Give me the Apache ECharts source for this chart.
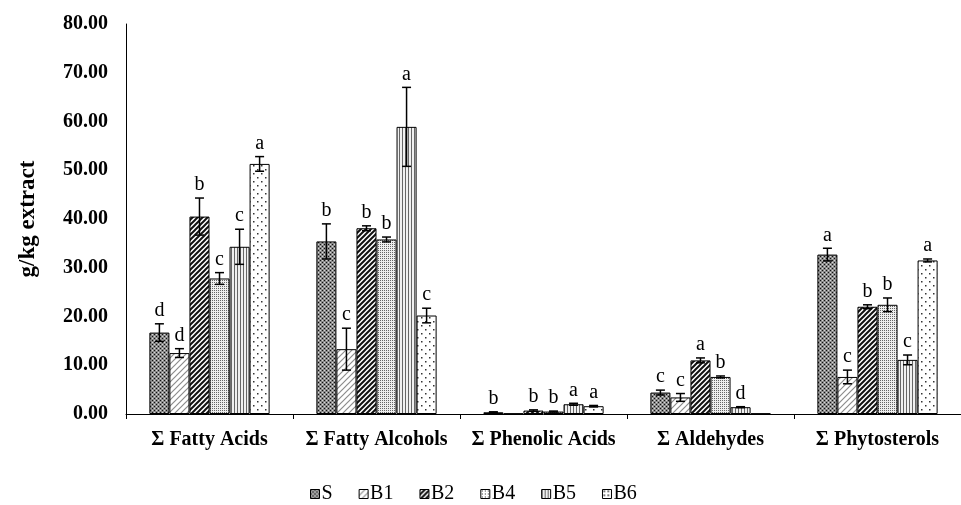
<!DOCTYPE html>
<html><head><meta charset="utf-8">
<script src="https://cdn.jsdelivr.net/npm/echarts@6/dist/echarts.min.js"></script>
<style>html,body{margin:0;padding:0;background:#fff}#c{width:961px;height:505px}</style>
</head><body><div id="c"></div>
<script>
var categories = ['Σ Fatty Acids','Σ Fatty Alcohols','Σ Phenolic Acids','Σ Aldehydes','Σ Phytosterols'];
var seriesNames = ['S','B1','B2','B4','B5','B6'];
var valS  = [16.7, 35.4, 0.35, 4.4, 32.7];
var valB1 = [12.5, 13.3, 0.1, 3.4, 7.6];
var valB2 = [40.5, 38.1, 0.7, 11.0, 22.0];
var valB4 = [27.8, 35.8, 0.5, 7.6, 22.4];
var valB5 = [34.3, 58.9, 2.0, 1.4, 11.1];
var valB6 = [51.3, 20.2, 1.6, 0.1, 31.5];
var errS  = [1.8, 3.6, 0.1, 0.5, 1.3];
var errB1 = [0.9, 4.3, 0, 0.8, 1.4];
var errB2 = [3.8, 0.5, 0.15, 0.5, 0.4];
var errB4 = [1.2, 0.5, 0.1, 0.2, 1.4];
var errB5 = [3.6, 8.1, 0.2, 0.1, 1.0];
var errB6 = [1.5, 1.5, 0.15, 0, 0.3];
var letS  = ['d','b','b','c','a'];
var letB1 = ['d','c','','c','c'];
var letB2 = ['b','b','b','a','b'];
var letB4 = ['c','b','b','b','b'];
var letB5 = ['c','a','a','d','c'];
var letB6 = ['a','c','a','','a'];
var yTicks = [0,10,20,30,40,50,60,70,80];

var values = [valS,valB1,valB2,valB4,valB5,valB6];
var errs = [errS,errB1,errB2,errB4,errB5,errB6];
var lets = [letS,letB1,letB2,letB4,letB5,letB6];

function mk(w,h,fn){var c=document.createElement('canvas');c.width=w;c.height=h;var x=c.getContext('2d');fn(x,w,h);return c;}
function px(x,c,a,b,s){x.fillStyle=c;x.fillRect(a,b,s||1,s||1);}
var patterns = [
  mk(4,4,function(x){x.fillStyle='#8a8a8a';x.fillRect(0,0,4,4);px(x,'#111',0,0);px(x,'#111',2,2);px(x,'#d8d8d8',2,0);px(x,'#d8d8d8',0,2);}),
  mk(6,6,function(x){x.fillStyle='#fff';x.fillRect(0,0,6,6);x.strokeStyle='#8c8c8c';x.lineWidth=1.2;x.beginPath();x.moveTo(0,6);x.lineTo(6,0);x.moveTo(-3,3);x.lineTo(3,-3);x.moveTo(3,9);x.lineTo(9,3);x.stroke();}),
  mk(5,5,function(x){x.fillStyle='#fff';x.fillRect(0,0,5,5);x.strokeStyle='#111';x.lineWidth=2;x.beginPath();x.moveTo(0,5);x.lineTo(5,0);x.moveTo(-2.5,2.5);x.lineTo(2.5,-2.5);x.moveTo(2.5,7.5);x.lineTo(7.5,2.5);x.stroke();}),
  mk(2,2,function(x){x.fillStyle='#eeeeee';x.fillRect(0,0,2,2);px(x,'#666',0,0);}),
  mk(3,3,function(x){x.fillStyle='#f0f0f0';x.fillRect(0,0,3,3);x.fillStyle='#666';x.fillRect(0,0,1,3);}),
  mk(8,8,function(x){x.fillStyle='#fff';x.fillRect(0,0,8,8);x.fillStyle='#333';x.fillRect(1,1,1.5,1.5);x.fillRect(5,5,1.5,1.5);})
];
var legendPatterns = [
  patterns[0], patterns[1], patterns[2],
  mk(3,3,function(x){x.fillStyle='#fff';x.fillRect(0,0,3,3);px(x,'#222',1,1);}),
  patterns[4],
  mk(4,4,function(x){x.fillStyle='#fff';x.fillRect(0,0,4,4);px(x,'#111',1,1,1.5);})
];

var barSeries = seriesNames.map(function(n,i){
  return {name:n,type:'bar',data:values[i],barGap:'0%',barCategoryGap:'28%',
    itemStyle:{color:{image:patterns[i],repeat:'repeat'},borderColor:'#000',borderWidth:1},z:2};
});
var errData = [];
for (var s=0;s<6;s++) for (var c=0;c<5;c++) errData.push([c,s,values[s][c],errs[s][c]]);
var errSeries = {type:'custom',z:5,silent:true,data:errData,encode:{x:0,y:2},
  renderItem:function(params,api){
    var c=api.value(0),s=api.value(1),v=api.value(2),e=api.value(3);
    var band=api.size([1,0])[0];
    var bw=band*0.72/6;
    var base=api.coord([c,v]);
    var x=base[0]+(s-2.5)*bw;
    var top=api.coord([c,v+e])[1], bot=api.coord([c,Math.max(v-e,0)])[1];
    var ch=[];
    var ls={stroke:'#000',lineWidth:1.5};
    if(e>0){
      ch.push({type:'line',shape:{x1:x,y1:top,x2:x,y2:bot},style:ls});
      ch.push({type:'line',shape:{x1:x-4.5,y1:top,x2:x+4.5,y2:top},style:ls});
      ch.push({type:'line',shape:{x1:x-4.5,y1:bot,x2:x+4.5,y2:bot},style:ls});
    }
    var t=lets[s][c];
    if(t){ch.push({type:'text',style:{text:t,x:x,y:top-3,align:'center',verticalAlign:'bottom',font:'20px "Liberation Serif"',fill:'#000'}});}
    return {type:'group',children:ch};
  }};

var chart = echarts.init(document.getElementById('c'),null,{renderer:'canvas'});
var legendData = seriesNames.map(function(n,i){return {name:n,itemStyle:{color:{image:legendPatterns[i],repeat:'repeat'},borderColor:'#000',borderWidth:1}};});
chart.setOption({
  animation:false,
  backgroundColor:'#fff',
  grid:{left:126,right:-10,top:24,bottom:91,containLabel:false},
  legend:{data:legendData,bottom:-4,left:305,icon:'rect',itemWidth:9,itemHeight:9,itemGap:26,
    textStyle:{fontFamily:'Liberation Serif',fontSize:20,color:'#000',padding:[0,0,0,-3]}},
  xAxis:{type:'category',data:categories,
    axisLine:{lineStyle:{color:'#000',width:1}},
    axisTick:{show:true,length:5,lineStyle:{color:'#000'}},
    axisLabel:{fontFamily:'Liberation Serif',fontWeight:'bold',fontSize:20,color:'#000',margin:16,interval:0}},
  yAxis:{type:'value',min:yTicks[0],max:yTicks[yTicks.length-1],interval:yTicks[1]-yTicks[0],
    name:'g/kg extract',nameLocation:'middle',nameGap:86,
    nameTextStyle:{fontFamily:'Liberation Serif',fontWeight:'bold',fontSize:23,color:'#000'},
    axisLine:{show:true,lineStyle:{color:'#000',width:1}},axisTick:{show:false},splitLine:{show:false},
    axisLabel:{fontFamily:'Liberation Serif',fontWeight:'bold',fontSize:20,color:'#000',margin:18,
      formatter:function(v){return v.toFixed(2);}}},
  series:barSeries.concat([errSeries])
});
</script></body></html>
